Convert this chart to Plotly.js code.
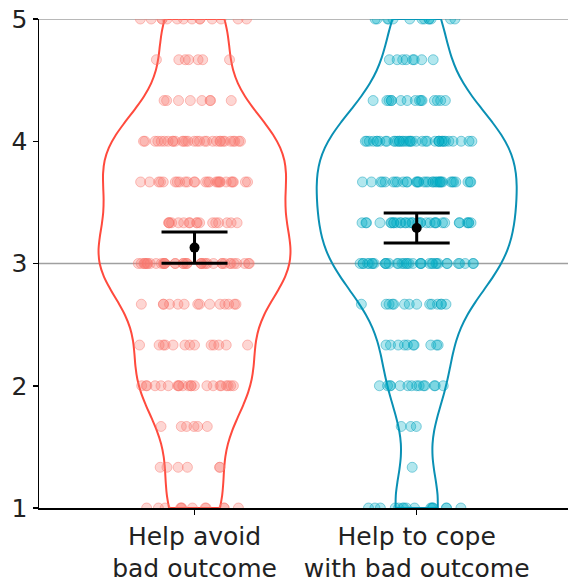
<!DOCTYPE html>
<html>
<head>
<meta charset="utf-8">
<script src="https://cdn.plot.ly/plotly-3.0.1.min.js"></script>
<style>
  html, body { margin: 0; padding: 0; background: #fff; }
  #chart { width: 568px; height: 583px; }
</style>
</head>
<body>
<div id="chart"></div>
<script>
// Response levels (mean of three items) and how many answers fall on each level
var levels = [1, 1.333, 1.667, 2, 2.333, 2.667, 3, 3.333, 3.667, 4, 4.333, 4.667, 5];
var countsAvoid = [12, 6, 6, 22, 13, 14, 38, 17, 26, 30, 8, 7, 14];
var countsCope  = [16, 1, 3, 14, 10, 14, 36, 32, 34, 38, 15, 8, 13];

// Category labels
var categories = ['Help avoid<br>bad outcome', 'Help to cope<br>with bad outcome'];

// Means and 95% CI half-widths
var means = [3.13, 3.29];
var ciHalf = [0.127, 0.123];

// Reference lines and ticks
var refLines = [3, 5];
var yTicks = [1, 2, 3, 4, 5];

function expand(lv, cnt) {
  var out = [];
  for (var i = 0; i < lv.length; i++) {
    for (var k = 0; k < cnt[i]; k++) out.push(lv[i]);
  }
  return out;
}

var samplesAvoid = expand(levels, countsAvoid);
var samplesCope = expand(levels, countsCope);

var violinCommon = {
  type: 'violin',
  points: 'all',
  pointpos: 0,
  spanmode: 'hard',
  bandwidth: 0.32,
  fillcolor: 'rgba(0,0,0,0)',
  box: { visible: false },
  meanline: { visible: false },
  showlegend: false,
  hoverinfo: 'y'
};

var traceAvoid = Object.assign({}, violinCommon, {
  y: samplesAvoid,
  name: categories[0],
  width: 0.864,
  jitter: 0.59,
  line: { color: '#FF4A3D', width: 2 },
  marker: { size: 10, color: 'rgba(248,118,109,0.3)', line: { color: 'rgba(248,118,109,0.45)', width: 1 } }
});

var traceCope = Object.assign({}, violinCommon, {
  y: samplesCope,
  name: categories[1],
  width: 0.9,
  jitter: 0.57,
  line: { color: '#0A90B4', width: 2 },
  marker: { size: 10, color: 'rgba(0,175,200,0.3)', line: { color: 'rgba(0,155,185,0.45)', width: 1 } }
});

var traceMean = {
  type: 'scatter',
  mode: 'markers',
  x: categories,
  y: means,
  marker: { color: 'black', size: 10 },
  error_y: { type: 'data', array: ciHalf, visible: true, color: 'black', thickness: 3, width: 33 },
  showlegend: false,
  hoverinfo: 'y'
};

var shapes = refLines.map(function (v) {
  return {
    type: 'line', xref: 'paper', x0: 0, x1: 1, yref: 'y', y0: v, y1: v,
    line: { color: '#A0A0A0', width: 1.5 }, layer: 'below'
  };
});

var tickFont = { family: 'DejaVu Sans, Liberation Sans, Arial, sans-serif', size: 25, color: '#222222' };

var layout = {
  width: 568,
  height: 583,
  margin: { l: 39, r: 0, t: 19, b: 75 },
  paper_bgcolor: '#ffffff',
  plot_bgcolor: '#ffffff',
  showlegend: false,
  shapes: shapes,
  xaxis: {
    type: 'category',
    range: [-0.7, 1.681],
    showline: true, linecolor: 'black', linewidth: 1.5,
    ticks: 'outside', ticklen: 5, tickwidth: 1.5, tickcolor: 'black',
    showgrid: false, zeroline: false,
    tickfont: tickFont
  },
  yaxis: {
    range: [1, 5],
    tickvals: yTicks,
    ticktext: yTicks.map(String),
    showline: true, linecolor: 'black', linewidth: 1.5,
    ticks: 'outside', ticklen: 5, tickwidth: 1.5, tickcolor: 'black',
    showgrid: false, zeroline: false,
    tickfont: tickFont
  }
};

Plotly.newPlot('chart', [traceAvoid, traceCope, traceMean], layout, { displayModeBar: false, staticPlot: true });
</script>
</body>
</html>
